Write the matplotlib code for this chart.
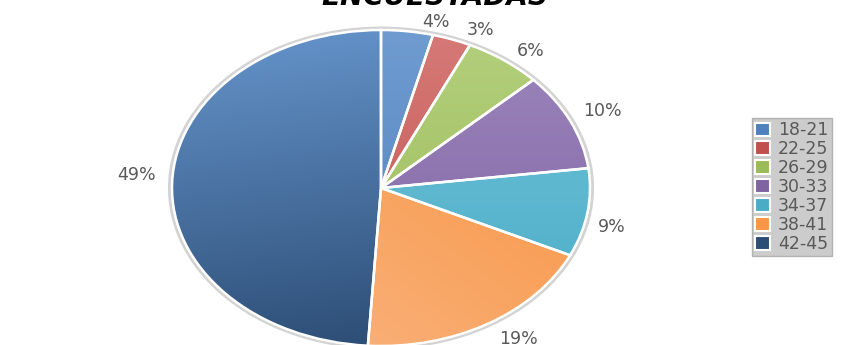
import numpy as np
import matplotlib
matplotlib.use("Agg")
import matplotlib.pyplot as plt
from matplotlib.colors import to_rgb
from matplotlib.patches import Patch

# datos
grupos = ["18-21", "22-25", "26-29", "30-33", "34-37", "38-41", "42-45"]
porcentajes = [4, 3, 6, 10, 9, 19, 49]
titulo = "ENCUESTADAS"

colores = ["#4F81BD", "#C0504D", "#9BBB59", "#8064A2", "#4BACC6", "#F79646", "#2C4D75"]
# colores mas claros para el degradado (tipo Excel)
claros = ["#6F9BD0", "#D67A77", "#B3CF7C", "#9C85BC", "#6FC3D9", "#FAB27C", "#6290C6"]
# direccion del degradado (angulo desde donde viene la luz)
direcciones = [90, 90, 90, 90, 90, 225, 100]
# separacion de cada etiqueta (factor en x, factor en y) como la pone Excel
sep_x = [2.10, 1.40, 1.22, 1.17, 1.12, 1.29, 1.17]
sep_y = [1.06, 1.06, 1.07, 1.14, 1.58, 1.11, 2.62]

fig = plt.figure(figsize=(8.44, 3.45), dpi=100)
W, H = 844, 345
# el pie se ve como elipse: ejes con aspecto libre
ax = fig.add_axes([172 / W, 1 - 346 / H, 418 / W, 316 / H])
ax.axis("off")

# borde gris claro alrededor del pie
ax.pie([1], radius=1.012, colors=["none"],
       wedgeprops=dict(edgecolor="#D3D3D3", linewidth=2.2))

wedges, textos = ax.pie(
    porcentajes, colors=colores, startangle=90, counterclock=False,
    wedgeprops=dict(edgecolor="white", linewidth=1.8))

# etiquetas de porcentaje
for w, p, fx, fy in zip(wedges, porcentajes, sep_x, sep_y):
    ang = np.deg2rad((w.theta1 + w.theta2) / 2)
    ax.text(fx * np.cos(ang), fy * np.sin(ang), f"{p}%", ha="center",
            va="center", color="#595959", fontsize=12.5)

# degradado en cada porcion
yy, xx = np.mgrid[-1:1:200j, -1:1:200j]
for w, c1, c2, ang in zip(wedges, colores, claros, direcciones):
    a = np.deg2rad(ang)
    t = (xx * np.cos(a) + yy * np.sin(a) + 1) / 2
    t = np.clip(t, 0, 1)[..., None]
    img = np.array(to_rgb(c1)) * (1 - t) + np.array(to_rgb(c2)) * t
    im = ax.imshow(img, extent=(-1, 1, -1, 1), origin="lower",
                   aspect="auto", zorder=w.get_zorder() - 0.01)
    im.set_clip_path(w)
    w.set_facecolor("none")
    w.set_zorder(w.get_zorder() + 0.5)

ax.set_aspect("auto")
ax.set_xlim(-1, 1)
ax.set_ylim(-1, 1)

fig.text(435 / W, 1 - 5 / H, titulo, ha="center", va="baseline",
         fontsize=20, fontweight="bold", fontstyle="italic", color="black")

handles = [Patch(facecolor=c, edgecolor="white", linewidth=1.5) for c in colores]
leg = fig.legend(handles, grupos, loc="upper left",
                 bbox_to_anchor=(752 / W, 1 - 118 / H),
                 frameon=True, fancybox=False, fontsize=12.5,
                 labelcolor="#595959", handlelength=0.85, handleheight=0.85,
                 handletextpad=0.45, labelspacing=0.05, borderpad=0.2,
                 borderaxespad=0)
leg.get_frame().set_facecolor("#C0C0C0")
leg.get_frame().set_edgecolor("#A6A6A6")

fig.savefig("out.png", dpi=100)
